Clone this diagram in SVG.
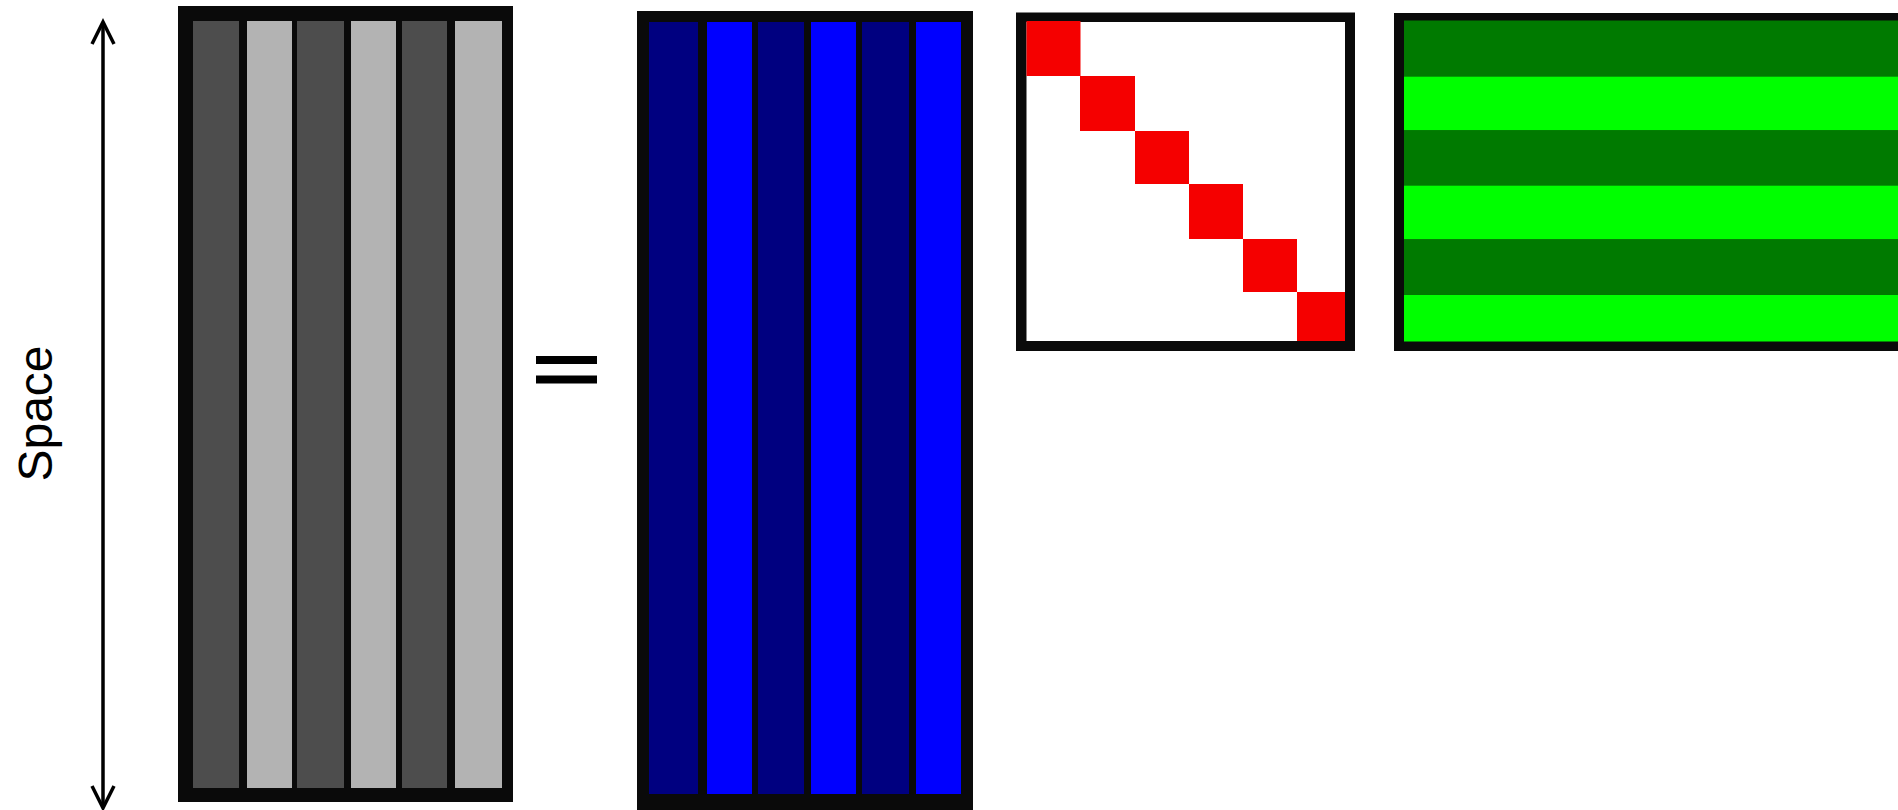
<svg xmlns="http://www.w3.org/2000/svg" width="1898" height="810" viewBox="0 0 1898 810">
<style>
.frame{fill:#0a0a0a}
.g1{fill:#4d4d4d}
.g2{fill:#b3b3b3}
.b1{fill:#000080}
.b2{fill:#0000ff}
.r{fill:#f50000}
.gd{fill:#007a00}
.gl{fill:#00ff00}
.axis{fill:none;stroke:#000;stroke-width:3.5}
.lbl{font-family:"Liberation Sans",Arial,sans-serif;font-size:48px;fill:#000}
</style>
<rect width="1898" height="810" fill="#fff"/>
<g id="connectors">
<path class="axis" d="M103 22 V807"/>
<path class="axis" d="M92 44 L103 22 L114 44" stroke-linejoin="miter"/>
<path class="axis" d="M92 786 L103 808 L114 786" stroke-linejoin="miter"/>
</g>
<g id="space-label">
<text class="lbl" transform="translate(52,413.5) rotate(-90)" text-anchor="middle" textLength="136" lengthAdjust="spacingAndGlyphs">Space</text>
</g>
<g id="gray-matrix">
<rect class="frame" x="178" y="6" width="335" height="796"/>
<rect class="g1" x="193" y="21" width="46" height="767"/>
<rect class="g2" x="247" y="21" width="45" height="767"/>
<rect class="g1" x="297" y="21" width="47" height="767"/>
<rect class="g2" x="351" y="21" width="45" height="767"/>
<rect class="g1" x="402" y="21" width="45" height="767"/>
<rect class="g2" x="455" y="21" width="47" height="767"/>
</g>
<g id="equals">
<rect x="536" y="356" width="61" height="8" fill="#000"/>
<rect x="536" y="375.5" width="61" height="8" fill="#000"/>
</g>
<g id="blue-matrix">
<rect class="frame" x="637" y="11" width="336" height="802"/>
<rect class="b1" x="649" y="22" width="49" height="772"/>
<rect class="b2" x="707" y="22" width="45" height="772"/>
<rect class="b1" x="758" y="22" width="46" height="772"/>
<rect class="b2" x="811" y="22" width="45" height="772"/>
<rect class="b1" x="862" y="22" width="47" height="772"/>
<rect class="b2" x="916" y="22" width="45" height="772"/>
</g>
<g id="red-diagonal">
<rect class="frame" x="1016" y="12.5" width="339" height="338.5"/>
<rect x="1026.5" y="22" width="318.5" height="319" fill="#fff"/>
<rect class="r" x="1026.5" y="21" width="54" height="55"/>
<rect class="r" x="1080" y="76" width="55" height="55"/>
<rect class="r" x="1135" y="131" width="54" height="53"/>
<rect class="r" x="1189" y="184" width="54" height="55"/>
<rect class="r" x="1243" y="239" width="54" height="53"/>
<rect class="r" x="1297" y="292" width="48" height="49"/>
</g>
<g id="green-matrix">
<rect class="frame" x="1394" y="13" width="510" height="338"/>
<rect class="gd" x="1404" y="20.5" width="500" height="56"/>
<rect class="gl" x="1404" y="76.5" width="500" height="54"/>
<rect class="gd" x="1404" y="130.5" width="500" height="55"/>
<rect class="gl" x="1404" y="185.5" width="500" height="54"/>
<rect class="gd" x="1404" y="239.5" width="500" height="55.5"/>
<rect class="gl" x="1404" y="295" width="500" height="46.5"/>
</g>
</svg>
